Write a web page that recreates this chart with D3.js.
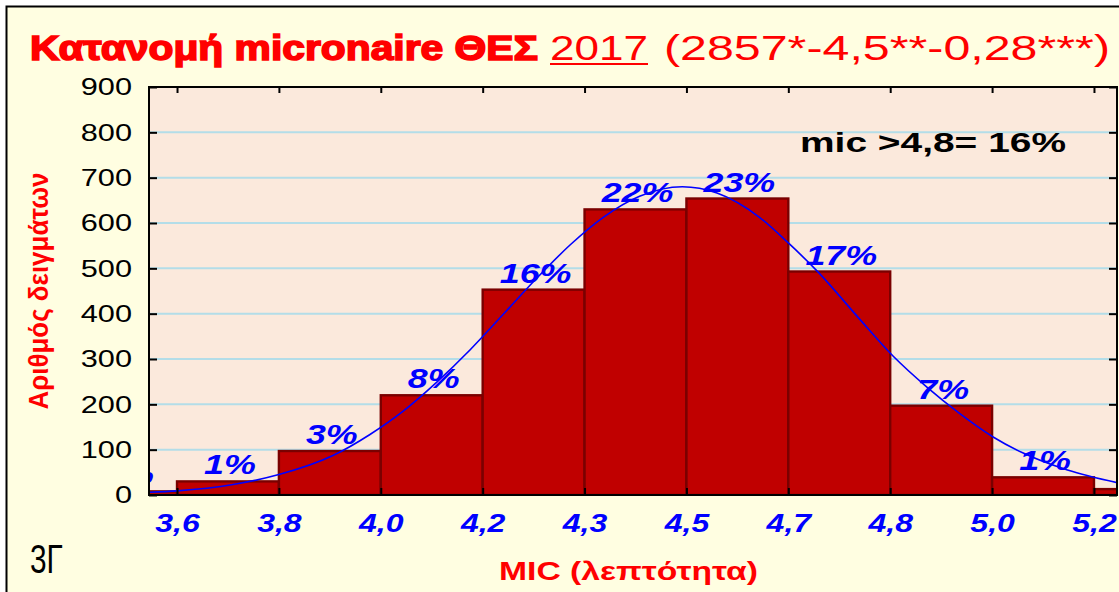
<!DOCTYPE html>
<html>
<head>
<meta charset="utf-8">
<script src="https://cdn.jsdelivr.net/npm/d3@7"></script>
<style>
  body { margin: 0; background: #fff; }
  svg { display: block; }
  text { font-family: "Liberation Sans", Arial, sans-serif; }
</style>
</head>
<body>
<div id="chart"></div>
<script>
// Data (bin k spans tick k-1 .. tick k; first and last bins are cut by the frame)
const tickLabels = ["3,6", "3,8", "4,0", "4,2", "4,3", "4,5", "4,7", "4,8", "5,0", "5,2"];
const counts = [8, 30, 97, 220, 453, 630, 654, 493, 197, 39, 13];
const percentLabels = ["0%", "1%", "3%", "8%", "16%", "22%", "23%", "17%", "7%", "1%", ""];
const yTicks = [0, 100, 200, 300, 400, 500, 600, 700, 800, 900];

// Fitted normal curve (position in tick units, count)
const curveX = [-0.275, 0, 0.55, 1.0, 1.53, 1.89, 2.22, 2.55, 2.88, 3.2, 3.53, 3.86, 4.18, 4.54, 4.96, 5.3, 5.72, 6.0, 6.3, 6.7, 7.03, 7.36, 7.68, 8.01, 8.3, 8.74, 9.23];
const curveY = [6, 9, 23, 45, 87, 133, 185, 249, 321, 398, 478, 552, 612, 659, 680, 666, 612, 556, 490, 388, 306, 238, 180, 128, 93, 55, 27];

const titleBold = "Κατανομή micronaire ΘΕΣ";
const titleYear = "2017";
const titleRest = "(2857*-4,5**-0,28***)";
const yTitle = "Αριθμός δειγμάτων";
const xTitle = "MIC (λεπτότητα)";
const note = "mic >4,8= 16%";
const corner = "3Γ";

const width = 1119;
const height = 592;
const plot = { left: 149, right: 1117, top: 87, bottom: 495 };
const sx = 1.28; // the original picture is stretched sideways

const svg = d3.select("#chart")
    .append("svg")
    .attr("width", width)
    .attr("height", height);

// Page background and frame
svg.append("rect").attr("width", width).attr("height", height).attr("fill", "#fff");
svg.append("rect")
    .attr("x", 6.5).attr("y", 6.5)
    .attr("width", width + 10).attr("height", height + 10)
    .attr("fill", "#FFFEE1")
    .attr("stroke", "#000")
    .attr("stroke-width", 2);

// Scales
const x = d3.scaleLinear()
    .domain([-0.275, 9.226])
    .range([plot.left, plot.right]);

const y = d3.scaleLinear()
    .domain([0, 900])
    .range([plot.bottom, plot.top]);

// Plot background
svg.append("rect")
    .attr("x", plot.left).attr("y", plot.top)
    .attr("width", plot.right - plot.left)
    .attr("height", plot.bottom - plot.top)
    .attr("fill", "#FBE9DC");

svg.append("clipPath").attr("id", "clip")
    .append("rect")
    .attr("x", plot.left).attr("y", plot.top)
    .attr("width", plot.right - plot.left)
    .attr("height", plot.bottom - plot.top);

// Gridlines
svg.append("g")
    .selectAll("line")
    .data(yTicks.filter(d => d > 0 && d < 900))
    .enter()
    .append("line")
    .attr("x1", plot.left).attr("x2", plot.right)
    .attr("y1", d => y(d)).attr("y2", d => y(d))
    .attr("stroke", "#B3DDE8")
    .attr("stroke-width", 2);

const inner = svg.append("g").attr("clip-path", "url(#clip)");

// Bars
inner.selectAll("rect.bar")
    .data(counts)
    .enter()
    .append("rect")
    .attr("class", "bar")
    .attr("x", (d, i) => x(i - 1))
    .attr("width", (d, i) => x(i) - x(i - 1))
    .attr("y", d => y(d))
    .attr("height", d => y(0) - y(d))
    .attr("fill", "#C00000")
    .attr("stroke", "#7A0000")
    .attr("stroke-width", 2.4);

// Normal curve
const line = d3.line()
    .x(d => x(d[0]))
    .y(d => y(d[1]))
    .curve(d3.curveMonotoneX);

inner.append("path")
    .datum(curveX.map((v, i) => [v, curveY[i]]))
    .attr("d", line)
    .attr("fill", "none")
    .attr("stroke", "#0000FF")
    .attr("stroke-width", 1.6);

// Percentage labels
inner.selectAll("text.pct")
    .data(counts)
    .enter()
    .append("text")
    .attr("class", "pct")
    .attr("transform", (d, i) => `translate(${x(i - 0.5) + 2}, ${y(d) - 7}) scale(${sx},1)`)
    .attr("text-anchor", "middle")
    .style("font-size", "28px")
    .style("font-weight", "bold")
    .style("font-style", "italic")
    .attr("fill", "#0000FF")
    .text((d, i) => percentLabels[i]);

// Axes
const yAxis = svg.append("g")
    .attr("transform", `translate(${plot.left},0)`)
    .call(d3.axisLeft(y).tickValues(yTicks).tickSize(-8).tickPadding(17));

yAxis.selectAll("text")
    .attr("x", -17 / sx)
    .attr("transform", `scale(${sx},1)`)
    .style("font-size", "24px")
    .attr("fill", "#000");

const yAxisRight = svg.append("g")
    .attr("transform", `translate(${plot.right},0)`)
    .call(d3.axisRight(y).tickValues(yTicks).tickSize(-8).tickFormat(""));

const edges = tickLabels.map((d, i) => i);

const xAxis = svg.append("g")
    .attr("transform", `translate(0,${plot.bottom})`)
    .call(d3.axisBottom(x).tickValues(edges).tickSize(-7).tickFormat((d, i) => tickLabels[i]));

xAxis.selectAll("text")
    .attr("y", 37)
    .attr("dy", 0)
    .attr("transform", `scale(${sx},1)`)
    .style("font-size", "25px")
    .style("font-weight", "bold")
    .style("font-style", "italic")
    .attr("fill", "#0000FF");

const xAxisTop = svg.append("g")
    .attr("transform", `translate(0,${plot.top})`)
    .call(d3.axisTop(x).tickValues(edges).tickSize(-6).tickFormat(""));

[yAxis, yAxisRight, xAxis, xAxisTop].forEach(a => {
    a.select(".domain").remove();
    a.selectAll(".tick line").attr("stroke", "#000").attr("stroke-width", 2);
});

// Plot frame
svg.append("rect")
    .attr("x", plot.left).attr("y", plot.top)
    .attr("width", plot.right - plot.left)
    .attr("height", plot.bottom - plot.top)
    .attr("fill", "none")
    .attr("stroke", "#000")
    .attr("stroke-width", 2);

// Title
svg.append("text")
    .attr("x", 30).attr("y", 60)
    .attr("textLength", 508).attr("lengthAdjust", "spacingAndGlyphs")
    .style("font-size", "35px")
    .style("font-weight", "bold")
    .attr("fill", "#FF0000")
    .attr("stroke", "#FF0000")
    .attr("stroke-width", 1.6)
    .text(titleBold);

svg.append("text")
    .attr("x", 550).attr("y", 60)
    .attr("textLength", 98).attr("lengthAdjust", "spacingAndGlyphs")
    .style("font-size", "35px")
    .attr("fill", "#FF0000")
    .text(titleYear);

svg.append("rect")
    .attr("x", 550).attr("y", 63)
    .attr("width", 98).attr("height", 2)
    .attr("fill", "#FF0000");

svg.append("text")
    .attr("x", 664).attr("y", 60)
    .attr("textLength", 446).attr("lengthAdjust", "spacingAndGlyphs")
    .style("font-size", "35px")
    .attr("fill", "#FF0000")
    .text(titleRest);

// Axis titles
svg.append("text")
    .attr("transform", "translate(48,291) rotate(-90)")
    .attr("text-anchor", "middle")
    .attr("textLength", 237).attr("lengthAdjust", "spacingAndGlyphs")
    .style("font-size", "27px")
    .style("font-weight", "bold")
    .attr("fill", "#FF0000")
    .text(yTitle);

svg.append("text")
    .attr("x", 499).attr("y", 580)
    .attr("textLength", 259).attr("lengthAdjust", "spacingAndGlyphs")
    .style("font-size", "25px")
    .style("font-weight", "bold")
    .attr("fill", "#FF0000")
    .text(xTitle);

// Note inside the plot
svg.append("text")
    .attr("x", 800).attr("y", 152)
    .attr("textLength", 266).attr("lengthAdjust", "spacingAndGlyphs")
    .style("font-size", "28px")
    .style("font-weight", "bold")
    .attr("fill", "#000")
    .text(note);

// Slide corner mark
svg.append("text")
    .attr("x", 30).attr("y", 573)
    .attr("textLength", 33).attr("lengthAdjust", "spacingAndGlyphs")
    .style("font-size", "40px")
    .attr("fill", "#000")
    .text(corner);
</script>
</body>
</html>
